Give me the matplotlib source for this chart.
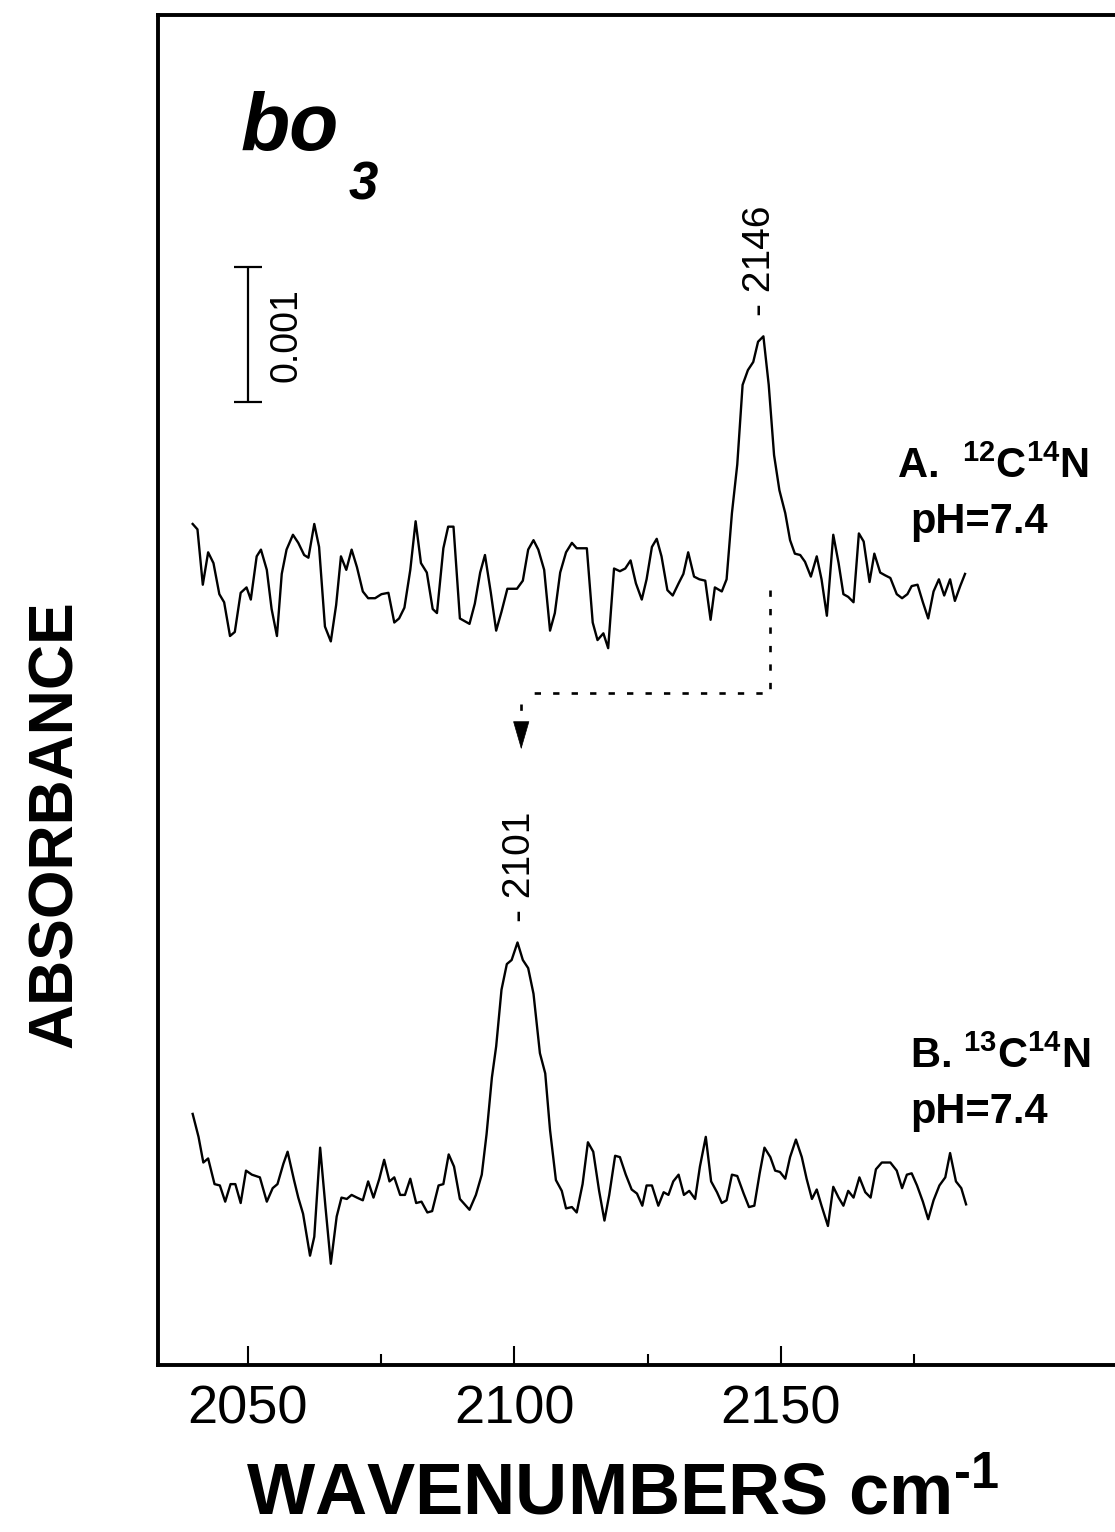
import matplotlib
matplotlib.use('Agg')
import matplotlib.pyplot as plt

plt.rcParams['font.family'] = ['Liberation Sans', 'DejaVu Sans']
plt.rcParams['mathtext.fontset'] = 'custom'
plt.rcParams['mathtext.rm'] = 'Liberation Sans:bold'
plt.rcParams['mathtext.bf'] = 'Liberation Sans:bold'
plt.rcParams['mathtext.default'] = 'rm'

# spectrum A: 12C14N, pH 7.4  (wavenumber cm-1, absorbance in units of 0.001)
wn_a = [2039.7, 2040.6, 2041.6, 2042.6, 2043.6, 2044.7, 2045.6, 2046.7, 2047.6, 2048.7,
        2049.8, 2050.6, 2051.7, 2052.5, 2053.6, 2054.5, 2055.5, 2056.4, 2057.3, 2058.5,
        2059.5, 2060.6, 2061.4, 2062.5, 2063.4, 2064.5, 2065.6, 2066.6, 2067.5, 2068.5,
        2069.5, 2070.5, 2071.6, 2072.6, 2073.9, 2075.1, 2076.4, 2077.5, 2078.4, 2079.4,
        2080.5, 2081.5, 2082.5, 2083.6, 2084.7, 2085.5, 2086.7, 2087.6, 2088.6, 2089.8,
        2091.6, 2092.6, 2093.6, 2094.5, 2095.6, 2096.6, 2097.6, 2098.7, 2100.5, 2101.6,
        2102.6, 2103.6, 2104.5, 2105.6, 2106.7, 2107.6, 2108.6, 2109.7, 2110.8, 2111.7,
        2113.6, 2114.7, 2115.6, 2116.7, 2117.6, 2118.7, 2119.8, 2120.8, 2121.8, 2122.8,
        2123.9, 2124.8, 2125.8, 2126.7, 2127.6, 2128.7, 2129.7, 2130.8, 2131.7, 2132.6,
        2133.7, 2134.7, 2135.8, 2136.8, 2137.6, 2138.9, 2139.8, 2140.8, 2141.8, 2142.8,
        2143.8, 2144.8, 2145.7, 2146.7, 2147.7, 2148.7, 2149.7, 2150.8, 2151.7, 2152.6,
        2153.6, 2154.5, 2155.6, 2156.7, 2157.6, 2158.6, 2159.8, 2160.8, 2161.7, 2162.6,
        2163.6, 2164.6, 2165.5, 2166.6, 2167.5, 2168.6, 2169.5, 2170.5, 2171.7, 2172.7,
        2173.7, 2174.5, 2175.6, 2176.6, 2177.6, 2178.6, 2179.6, 2180.6, 2181.7, 2182.6,
        2183.6, 2184.5]
abs_a = [0.56, 0.52, 0.11, 0.35, 0.27, 0.04, -0.02, -0.27, -0.24, 0.05,
         0.09, 0.00, 0.32, 0.37, 0.22, -0.07, -0.27, 0.19, 0.37, 0.48,
         0.42, 0.33, 0.31, 0.56, 0.39, -0.20, -0.31, -0.04, 0.32, 0.22,
         0.37, 0.24, 0.06, 0.01, 0.01, 0.04, 0.05, -0.17, -0.14, -0.06,
         0.22, 0.58, 0.27, 0.20, -0.07, -0.10, 0.38, 0.54, 0.54, -0.14,
         -0.18, -0.03, 0.20, 0.33, 0.05, -0.23, -0.09, 0.08, 0.08, 0.14,
         0.37, 0.44, 0.37, 0.22, -0.23, -0.10, 0.20, 0.35, 0.42, 0.38,
         0.38, -0.17, -0.30, -0.25, -0.36, 0.23, 0.21, 0.23, 0.29, 0.12,
         0.00, 0.15, 0.39, 0.45, 0.32, 0.07, 0.03, 0.12, 0.19, 0.35,
         0.17, 0.15, 0.14, -0.15, 0.09, 0.06, 0.15, 0.64, 1.00, 1.59,
         1.70, 1.76, 1.91, 1.95, 1.59, 1.07, 0.81, 0.64, 0.44, 0.34,
         0.33, 0.28, 0.17, 0.32, 0.15, -0.12, 0.48, 0.27, 0.04, 0.02,
         -0.02, 0.49, 0.43, 0.13, 0.34, 0.20, 0.18, 0.16, 0.04, 0.01,
         0.04, 0.10, 0.11, -0.02, -0.14, 0.06, 0.15, 0.03, 0.15, -0.01,
         0.10, 0.19]

# spectrum B: 13C14N, pH 7.4
wn_b = [2039.7, 2040.8, 2041.7, 2042.6, 2043.8, 2044.8, 2045.8, 2046.8, 2047.7, 2048.7,
        2049.7, 2050.8, 2052.3, 2053.6, 2054.7, 2055.6, 2056.7, 2057.5, 2058.7, 2059.5,
        2060.4, 2061.7, 2062.5, 2063.6, 2064.6, 2065.6, 2066.7, 2067.6, 2068.6, 2069.5,
        2070.5, 2071.6, 2072.6, 2073.6, 2074.7, 2075.6, 2076.6, 2077.5, 2078.6, 2079.5,
        2080.5, 2081.6, 2082.6, 2083.7, 2084.6, 2085.8, 2086.7, 2087.7, 2088.7, 2089.8,
        2091.6, 2092.8, 2093.9, 2094.8, 2095.8, 2096.6, 2097.6, 2098.6, 2099.5, 2100.6,
        2101.6, 2102.6, 2103.6, 2104.8, 2105.8, 2106.7, 2107.8, 2108.9, 2109.7, 2110.8,
        2111.7, 2112.8, 2113.8, 2114.8, 2115.9, 2116.9, 2117.8, 2118.9, 2119.8, 2120.9,
        2122.0, 2123.0, 2124.0, 2124.8, 2125.8, 2127.0, 2128.0, 2128.9, 2129.8, 2130.8,
        2131.8, 2132.8, 2133.9, 2134.8, 2135.9, 2136.9, 2138.0, 2138.9, 2139.8, 2140.8,
        2141.8, 2143.0, 2144.0, 2145.0, 2146.0, 2146.9, 2148.0, 2148.9, 2149.8, 2150.8,
        2151.7, 2152.8, 2153.9, 2154.8, 2155.8, 2156.7, 2157.6, 2158.8, 2159.8, 2160.8,
        2161.7, 2162.6, 2163.6, 2164.7, 2165.8, 2166.8, 2167.8, 2168.9, 2169.7, 2170.5,
        2171.7, 2172.7, 2173.6, 2174.5, 2175.5, 2176.6, 2177.6, 2178.6, 2179.7, 2180.8,
        2181.7, 2182.8, 2183.8, 2184.7]
abs_b = [0.64, 0.47, 0.28, 0.31, 0.12, 0.11, -0.01, 0.12, 0.12, -0.02,
         0.22, 0.19, 0.17, -0.01, 0.09, 0.12, 0.27, 0.36, 0.15, 0.02,
         -0.10, -0.41, -0.27, 0.39, -0.05, -0.47, -0.12, 0.02, 0.01, 0.04,
         0.02, 0.00, 0.14, 0.02, 0.16, 0.30, 0.14, 0.17, 0.04, 0.04,
         0.16, -0.02, -0.01, -0.09, -0.08, 0.11, 0.12, 0.34, 0.25, 0.01,
         -0.07, 0.04, 0.19, 0.49, 0.91, 1.14, 1.56, 1.75, 1.78, 1.91,
         1.78, 1.72, 1.53, 1.09, 0.94, 0.52, 0.15, 0.07, -0.06, -0.05,
         -0.09, 0.12, 0.43, 0.36, 0.07, -0.15, 0.04, 0.33, 0.32, 0.19,
         0.08, 0.05, -0.04, 0.11, 0.11, -0.04, 0.06, 0.04, 0.14, 0.19,
         0.04, 0.07, 0.01, 0.25, 0.47, 0.14, 0.06, -0.02, 0.00, 0.19,
         0.18, 0.05, -0.05, -0.04, 0.20, 0.39, 0.32, 0.22, 0.21, 0.16,
         0.32, 0.45, 0.32, 0.16, 0.01, 0.08, -0.04, -0.19, 0.10, 0.02,
         -0.04, 0.07, 0.02, 0.17, 0.06, 0.02, 0.23, 0.28, 0.28, 0.28,
         0.22, 0.09, 0.19, 0.20, 0.11, -0.01, -0.14, 0.00, 0.11, 0.17,
         0.35, 0.14, 0.09, -0.03]

peak_a = 2146
peak_b = 2101
major_ticks = [2050, 2100, 2150]
minor_ticks = [2075, 2125, 2175]

# vertical stacking of the two traces (same 0.001 units)
offset_a = 5.67
offset_b = 1.22

fig = plt.figure(figsize=(11.15, 15.32), dpi=100)
ax = fig.add_axes([0.1417, 0.109, 0.8673, 0.8812])

ax.plot(wn_a, [v + offset_a for v in abs_a], color='k', lw=1.7)
ax.plot(wn_b, [v + offset_b for v in abs_b], color='k', lw=1.7)

ax.set_xlim(2033.2, 2214.5)
ax.set_ylim(0, 10)

for side in ['left', 'bottom', 'top', 'right']:
    ax.spines[side].set_linewidth(2.8)
ax.set_yticks([])
ax.set_xticks(major_ticks)
ax.set_xticks(minor_ticks, minor=True)
ax.tick_params(axis='x', which='major', direction='in', length=14, width=1.5,
               labelsize=39, pad=14)
ax.tick_params(axis='x', which='minor', direction='in', length=8, width=1.5)

# title
ax.text(2048.6, 9.0, 'bo', fontsize=58, fontweight='bold', style='italic')
ax.text(2068.9, 8.63, '3', fontsize=38, fontweight='bold', style='italic')

# scale bar 0.001
ax.errorbar(2050, 7.63, yerr=0.5, fmt='none', ecolor='k', elinewidth=1.6,
            capsize=10, capthick=1.6)
ax.text(2057.3, 7.63, '0.001', rotation=90, fontsize=27, ha='center', va='center')

# peak labels
ax.text(peak_a, offset_a + 1.95 + 0.15, '- ' + str(peak_a), rotation=90,
        fontsize=28, ha='center', va='bottom')
ax.text(peak_b, offset_b + 1.91 + 0.15, '- ' + str(peak_b), rotation=90,
        fontsize=28, ha='center', va='bottom')

# sample labels
ax.text(2171.7, 6.57, r'A.  $^{12}$C$^{14}$N', fontsize=30, fontweight='bold')
ax.text(2174.2, 6.16, 'pH=7.4', fontsize=30, fontweight='bold')
ax.text(2174.2, 2.20, r'B. $^{13}$C$^{14}$N', fontsize=30, fontweight='bold')
ax.text(2174.2, 1.79, 'pH=7.4', fontsize=30, fontweight='bold')

# dotted shift arrow from A peak to B peak
dots = (0, (2.4, 4.6))
ax.plot([2148.0, 2148.0, 2102.3], [5.74, 4.98, 4.98], color='k', lw=1.9, ls=dots)
ax.plot([2101.3, 2101.3], [4.9, 4.76], color='k', lw=1.9, ls=dots)
ax.annotate('', xy=(2101.3, 4.54), xytext=(2101.3, 4.74),
            arrowprops=dict(arrowstyle='-|>,head_length=1.9,head_width=0.55',
                            color='k', lw=0.5))

fig.text(0.050, 0.462, 'ABSORBANCE', rotation=90, fontsize=45, fontweight='bold',
         ha='center', va='center')
fig.text(0.558, 0.0115, r'WAVENUMBERS cm$^{\text{-1}}$', fontsize=52,
         fontweight='bold', ha='center', va='baseline')

fig.savefig('out.png', dpi=100)
